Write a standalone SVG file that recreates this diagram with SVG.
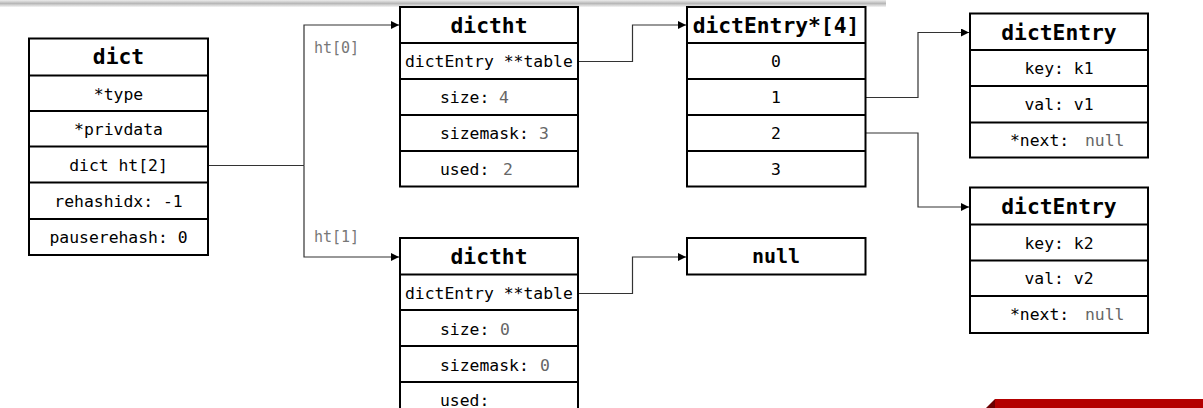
<svg xmlns="http://www.w3.org/2000/svg" width="1203" height="408" viewBox="0 0 1203 408">
<defs>
<style>
.box{fill:#fff;stroke:#000;stroke-width:2}
.sep{stroke:#000;stroke-width:2}
.t{font-family:"DejaVu Sans Mono","Liberation Mono",monospace;font-size:16.4px;fill:#000}
.c{text-anchor:middle}
.b{font-family:"DejaVu Sans Mono","Liberation Mono",monospace;font-size:21.3px;font-weight:bold;fill:#000;text-anchor:middle}
.v{fill:#666}
.lbl{font-family:"DejaVu Sans Mono","Liberation Mono",monospace;font-size:15px;fill:#777}
.conn{fill:none;stroke:#333;stroke-width:1.2}
</style>
<marker id="arr" markerUnits="userSpaceOnUse" markerWidth="9" markerHeight="9" refX="8" refY="4" orient="auto">
<path d="M0,0 L8,4 L0,8 z" fill="#000"/>
</marker>
<linearGradient id="shadow" x1="0" y1="0" x2="0" y2="1">
<stop offset="0" stop-color="#ececec"/>
<stop offset="0.5" stop-color="#b8b8b8"/>
<stop offset="1" stop-color="#f4f4f4"/>
</linearGradient>
</defs>
<rect width="1203" height="408" fill="#fff"/>
<rect x="0" y="0" width="886" height="7" fill="url(#shadow)"/>

<g id="connectors">
<polyline class="conn" points="208,165.5 304,165.5"/>
<polyline class="conn" points="304,165.5 304,25 399,25" marker-end="url(#arr)"/>
<polyline class="conn" points="304,165.5 304,257 399,257" marker-end="url(#arr)"/>
<polyline class="conn" points="578,61.5 632.5,61.5 632.5,25 686,25" marker-end="url(#arr)"/>
<polyline class="conn" points="578,293.5 632.5,293.5 632.5,257 686,257" marker-end="url(#arr)"/>
<polyline class="conn" points="866,97.5 918,97.5 918,32.5 969,32.5" marker-end="url(#arr)"/>
<polyline class="conn" points="866,133 918,133 918,207 969,207" marker-end="url(#arr)"/>
<text class="lbl" x="314" y="53">ht[0]</text>
<text class="lbl" x="314" y="242">ht[1]</text>
</g>

<g id="dict">
<rect class="box" x="29" y="38.5" width="179" height="216.5"/>
<line class="sep" x1="29" y1="75.5" x2="208" y2="75.5"/>
<line class="sep" x1="29" y1="111" x2="208" y2="111"/>
<line class="sep" x1="29" y1="146.5" x2="208" y2="146.5"/>
<line class="sep" x1="29" y1="182.5" x2="208" y2="182.5"/>
<line class="sep" x1="29" y1="219" x2="208" y2="219"/>
<text class="b" x="118.5" y="64">dict</text>
<text class="t c" x="118.5" y="100">*type</text>
<text class="t c" x="118.5" y="135">*privdata</text>
<text class="t c" x="118.5" y="171">dict ht[2]</text>
<text class="t c" x="118.5" y="207">rehashidx: -1</text>
<text class="t c" x="118.5" y="243">pauserehash: 0</text>
</g>

<g id="dictht0">
<rect class="box" x="400" y="7" width="178" height="179.5"/>
<line class="sep" x1="400" y1="43" x2="578" y2="43"/>
<line class="sep" x1="400" y1="79" x2="578" y2="79"/>
<line class="sep" x1="400" y1="115" x2="578" y2="115"/>
<line class="sep" x1="400" y1="151" x2="578" y2="151"/>
<text class="b" x="489" y="33">dictht</text>
<text class="t" x="405" y="67">dictEntry **table</text>
<text class="t" x="440" y="103">size: <tspan class="v" x="499">4</tspan></text>
<text class="t" x="440" y="139">sizemask: <tspan class="v" x="539">3</tspan></text>
<text class="t" x="440" y="175">used: <tspan class="v" x="503">2</tspan></text>
</g>

<g id="dictht1">
<rect class="box" x="400" y="238" width="178" height="185"/>
<line class="sep" x1="400" y1="274.5" x2="578" y2="274.5"/>
<line class="sep" x1="400" y1="310" x2="578" y2="310"/>
<line class="sep" x1="400" y1="346" x2="578" y2="346"/>
<line class="sep" x1="400" y1="382" x2="578" y2="382"/>
<text class="b" x="489" y="264">dictht</text>
<text class="t" x="405" y="299">dictEntry **table</text>
<text class="t" x="440" y="335">size: <tspan class="v" x="500">0</tspan></text>
<text class="t" x="440" y="371">sizemask: <tspan class="v" x="540">0</tspan></text>
<text class="t" x="440" y="406">used:</text>
</g>

<g id="table">
<rect class="box" x="687" y="7" width="178.5" height="179.5"/>
<line class="sep" x1="687" y1="43" x2="865.5" y2="43"/>
<line class="sep" x1="687" y1="79" x2="865.5" y2="79"/>
<line class="sep" x1="687" y1="115" x2="865.5" y2="115"/>
<line class="sep" x1="687" y1="151" x2="865.5" y2="151"/>
<text class="b" x="776" y="33">dictEntry*[4]</text>
<text class="t c" x="776" y="67">0</text>
<text class="t c" x="776" y="103">1</text>
<text class="t c" x="776" y="139">2</text>
<text class="t c" x="776" y="175">3</text>
</g>

<g id="null">
<rect class="box" x="687" y="238" width="178.5" height="36.5"/>
<text class="b" x="776" y="263" style="font-size:20px">null</text>
</g>

<g id="entry1">
<rect class="box" x="970" y="13.5" width="178" height="144"/>
<line class="sep" x1="970" y1="50" x2="1148" y2="50"/>
<line class="sep" x1="970" y1="86" x2="1148" y2="86"/>
<line class="sep" x1="970" y1="122.5" x2="1148" y2="122.5"/>
<text class="b" x="1059" y="39.5">dictEntry</text>
<text class="t c" x="1059" y="74">key: k1</text>
<text class="t c" x="1059" y="110">val: v1</text>
<text class="t" x="1010" y="146">*next: <tspan class="v" x="1085">null</tspan></text>
</g>

<g id="entry2">
<rect class="box" x="970" y="187.5" width="178" height="145.5"/>
<line class="sep" x1="970" y1="224.5" x2="1148" y2="224.5"/>
<line class="sep" x1="970" y1="260.5" x2="1148" y2="260.5"/>
<line class="sep" x1="970" y1="296" x2="1148" y2="296"/>
<text class="b" x="1059" y="214">dictEntry</text>
<text class="t c" x="1059" y="249">key: k2</text>
<text class="t c" x="1059" y="284">val: v2</text>
<text class="t" x="1010" y="320">*next: <tspan class="v" x="1085">null</tspan></text>
</g>

<polygon points="986,408 995,399 995,408" fill="#6b0000"/>
<rect x="995" y="399" width="208" height="9" fill="#b30000"/>
</svg>
